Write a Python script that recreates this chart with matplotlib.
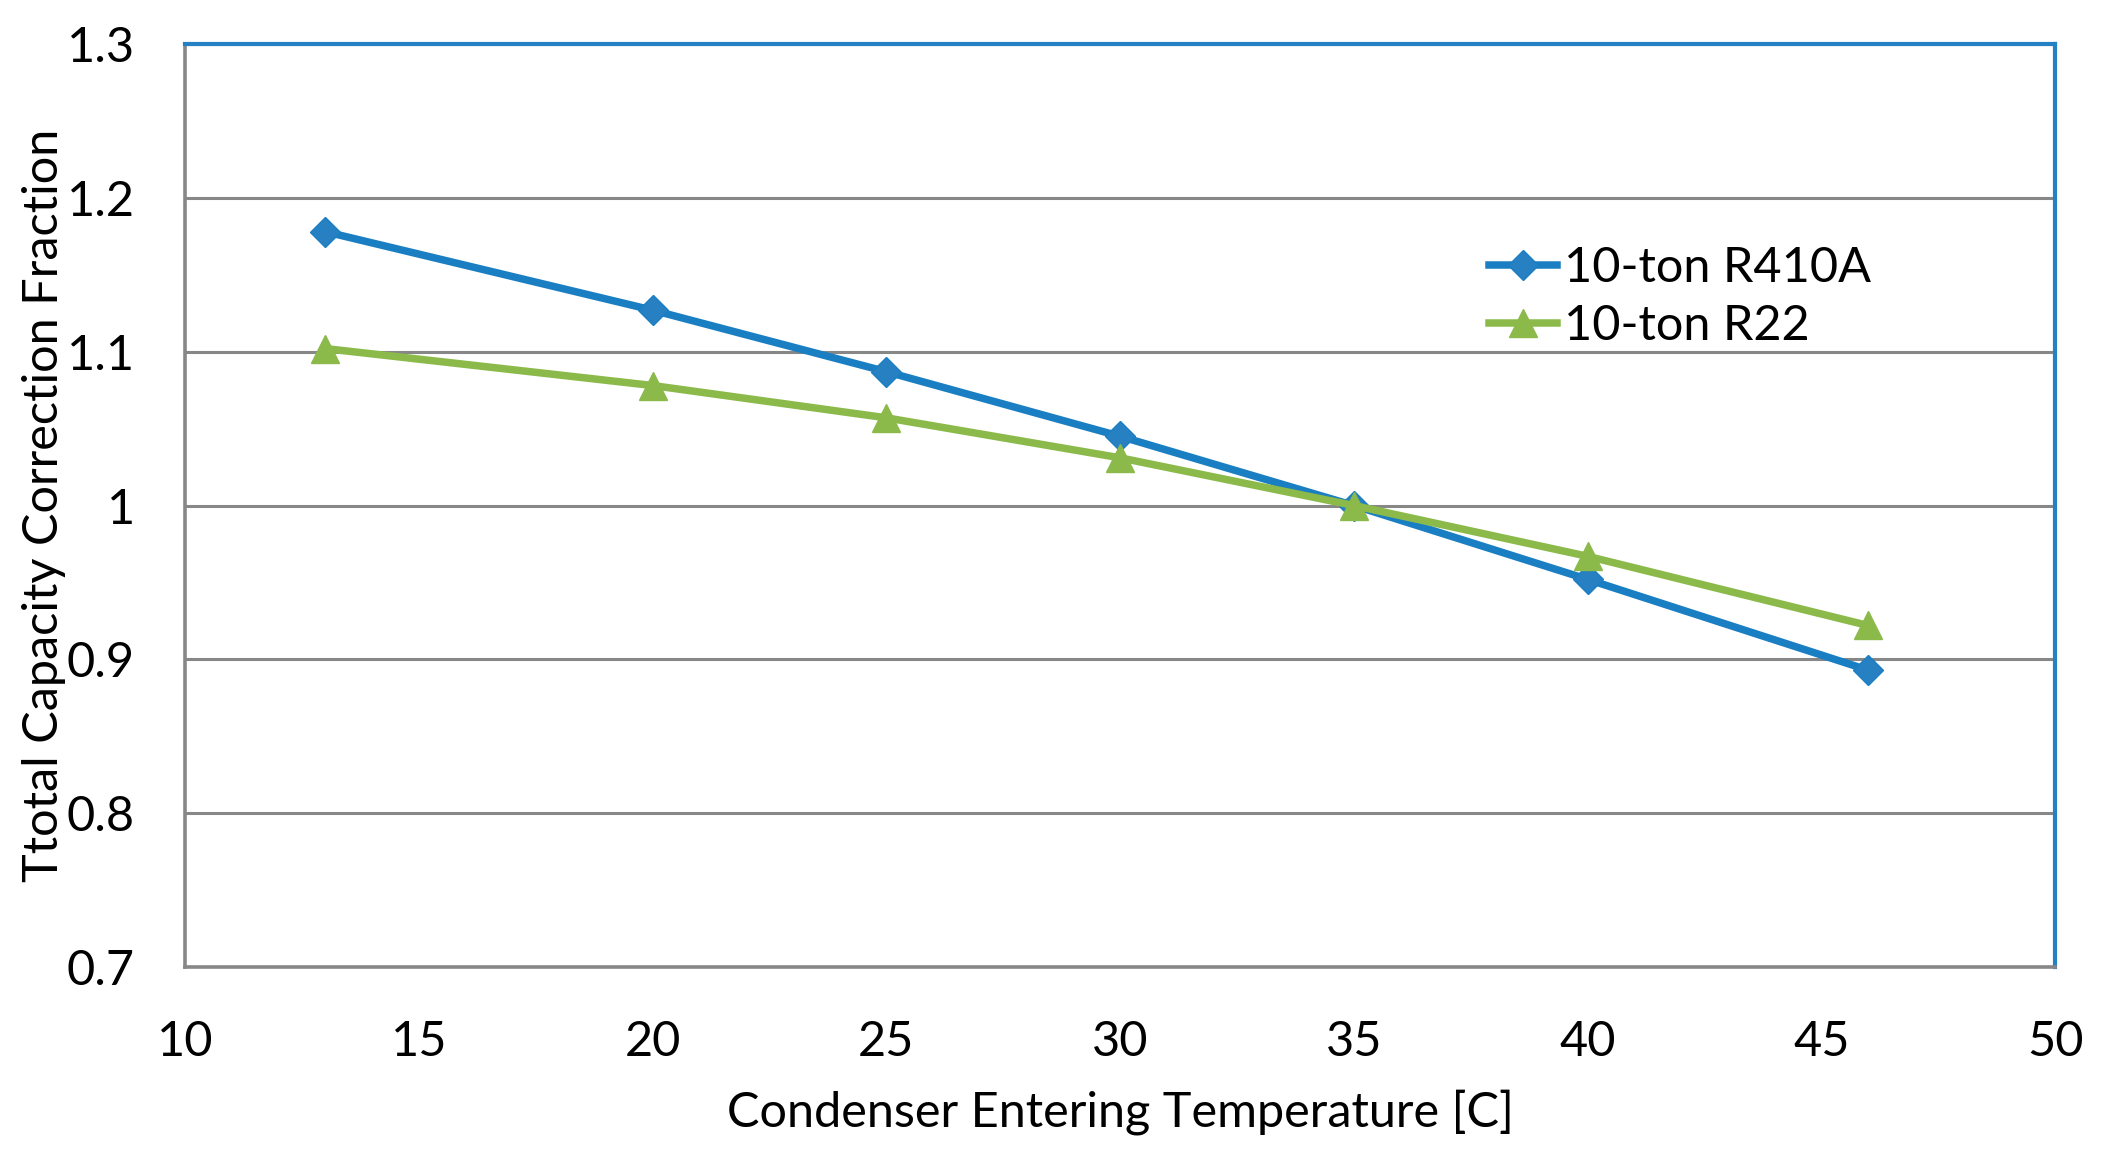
import matplotlib
matplotlib.use("Agg")
import matplotlib.pyplot as plt
from matplotlib.ticker import MultipleLocator

temps = [13, 20, 25, 30, 35, 40, 46]
r410a = [1.178, 1.127, 1.087, 1.045, 1.000, 0.952, 0.893]
r22 = [1.102, 1.078, 1.057, 1.031, 1.000, 0.967, 0.922]
series_names = ["10-ton R410A", "10-ton R22"]
x_label = "Condenser Entering Temperature [C]"
y_label = "Ttotal Capacity Correction Fraction"
y_ticks = [0.7, 0.8, 0.9, 1.0, 1.1, 1.2, 1.3]
y_tick_labels = ['0.7', '0.8', '0.9', '1', '1.1', '1.2', '1.3']

plt.rcParams['font.family'] = ['Lato', 'DejaVu Sans']

W, H = 2103, 1162
L, R, T, B = 185, 2055, 44, 967
fig = plt.figure(figsize=(W/100, H/100), dpi=100)
ax = fig.add_axes([L/W, 1-B/H, (R-L)/W, (B-T)/H])

blue = '#1A7EC2'
green = '#8BBA4A'
grid_c = '#878787'

ax.plot(temps, r410a, color=blue, lw=5.4, marker='D', ms=15.5,
        markerfacecolor='#2680C2', markeredgecolor=blue, label=series_names[0], zorder=3)
ax.plot(temps, r22, color=green, lw=5.4, marker='^', ms=20,
        markerfacecolor=green, markeredgecolor=green, label=series_names[1], zorder=3)

ax.set_xlim(10, 50)
ax.set_ylim(0.7, 1.3)
ax.xaxis.set_major_locator(MultipleLocator(5))
ax.set_yticks(y_ticks)
ax.set_yticklabels(y_tick_labels)
ax.grid(axis='y', color=grid_c, lw=2.2, zorder=1)
ax.set_axisbelow(True)

for s in ['left', 'bottom']:
    ax.spines[s].set_color(grid_c)
    ax.spines[s].set_linewidth(2.6)
for s in ['top', 'right']:
    ax.spines[s].set_color('#2381C4')
    ax.spines[s].set_linewidth(3.0)

fs = 35
ax.tick_params(axis='both', length=0, labelsize=fs, colors='black')
ax.tick_params(axis='x', pad=38)
ax.tick_params(axis='y', pad=36)

ax.set_xlabel(x_label, fontsize=fs)
ax.xaxis.set_label_coords(0.5, (B-1112)/(B-T))
ax.xaxis.label.set_va('center')
ax.set_ylabel(y_label, fontsize=fs)
ax.yaxis.set_label_coords((44-L)/(R-L), 0.5)
ax.yaxis.label.set_va('center')

leg = ax.legend(loc='center left', bbox_to_anchor=((1489-L)/(R-L), (B-297)/(B-T)),
                frameon=False, fontsize=fs, handlelength=1.4, handletextpad=0.15,
                labelspacing=0.3, borderaxespad=0, borderpad=0)

fig.savefig('out.png', dpi=100, facecolor='white')
